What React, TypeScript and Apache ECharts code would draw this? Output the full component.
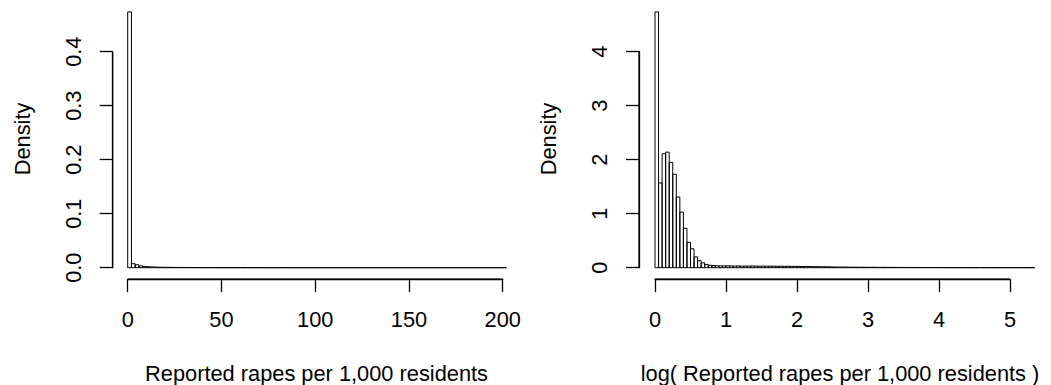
import React, { useEffect, useRef } from "react";
import * as echarts from "echarts";

// ---- Data ----
const leftBinWidth = 2;
const leftDensity = [
  0.4737, 0.0074, 0.0055, 0.0034, 0.0024, 0.0018, 0.0014, 0.0011, 0.0009, 0.0008,
  0.0007, 0.0006, 0.0005, 0.0005, 0.0004, 0.0004, 0.0003, 0.0003, 0.0003, 0.0002,
  0.0002, 0.0002, 0.0002, 0.0001, 0.0001, 0.0001, 0.0001, 0.0001, 0.0001, 0.0001,
  0.0001, 0.0001, 0, 0.0001, 0, 0.0001, 0, 0, 0.0001, 0,
  0, 0.0001, 0, 0, 0, 0, 0.0001, 0, 0, 0,
  0, 0, 0, 0, 0, 0, 0, 0, 0, 0,
  0, 0, 0, 0, 0, 0, 0, 0, 0, 0,
  0, 0, 0, 0, 0, 0, 0, 0, 0, 0,
  0, 0, 0, 0, 0, 0, 0, 0, 0, 0,
  0, 0, 0, 0, 0, 0, 0, 0, 0, 0,
  0.0001,
];

const rightBinWidth = 0.05;
const rightDensity = [
  4.737, 1.57, 2.11, 2.14, 1.95, 1.73, 1.31, 1.03, 0.73, 0.47,
  0.35, 0.2, 0.13, 0.09, 0.06, 0.045, 0.04, 0.036, 0.034, 0.033,
  0.035, 0.032, 0.031, 0.033, 0.03, 0.031, 0.029, 0.032, 0.03, 0.028,
  0.03, 0.027, 0.029, 0.028, 0.026, 0.027, 0.025, 0.026, 0.024, 0.025,
  0.023, 0.022, 0.024, 0.021, 0.02, 0.019, 0.018, 0.017, 0.016, 0.015,
  0.013, 0.012, 0.011, 0.012, 0.01, 0.009, 0.01, 0.008, 0.009, 0.008,
  0.007, 0.008, 0.007, 0.006, 0.007, 0.006, 0.006, 0.005, 0.006, 0.005,
  0.005, 0.004, 0.005, 0.004, 0.004, 0.004, 0.003, 0.004, 0.003, 0.003,
  0.003, 0.003, 0.002, 0.003, 0.002, 0.002, 0.002, 0.002, 0.002, 0.002,
  0.001, 0.002, 0.001, 0.001, 0.001, 0.001, 0.001, 0.001, 0.001, 0.001,
  0.001, 0.001, 0.001, 0.001, 0.001, 0.001, 0.001,
];

const leftXRange = [0, 200];
const leftXStep = 50;
const leftYRange = [0, 0.4];
const leftYStep = 0.1;
const rightXRange = [0, 5];
const rightXStep = 1;
const rightYRange = [0, 4];
const rightYStep = 1;

const leftXLabel = "Reported rapes per 1,000 residents";
const rightXLabel = "log( Reported rapes per 1,000 residents )";
const yLabel = "Density";

// ---- Styles ----
const FONT = "'Liberation Sans', Arial, Helvetica, sans-serif";
const FS = 21.8;
const INK = "#000";
const LINEW = 1.3;
const TICKW = 1.3;
const X_OFFSET = 11.5;
const Y_OFFSETS = [15, 16];

function toBins(dens: number[], w: number) {
  return dens.map((d, i) => [i * w, (i + 1) * w, d]);
}

function histSeries(idx: number, data: number[][]) {
  return {
    type: "custom",
    xAxisIndex: idx,
    yAxisIndex: idx,
    data,
    encode: { x: [0, 1], y: 2 },
    renderItem: (params: any, api: any) => {
      const p0 = api.coord([api.value(0), 0]);
      const p1 = api.coord([api.value(1), api.value(2)]);
      return {
        type: "rect",
        shape: {
          x: p0[0],
          y: p1[1],
          width: p1[0] - p0[0],
          height: p0[1] - p1[1],
        },
        style: { fill: "none", stroke: INK, lineWidth: 1 },
      };
    },
  };
}

function xAxisCfg(idx: number, range: number[], step: number) {
  return {
    type: "value",
    gridIndex: idx,
    min: range[0],
    max: range[1],
    interval: step,
    offset: X_OFFSET,
    axisLine: { show: true, onZero: false, lineStyle: { color: INK, width: LINEW } },
    axisTick: { show: true, length: 13, lineStyle: { color: INK, width: TICKW } },
    axisLabel: { margin: 29, color: INK, fontSize: FS, fontFamily: FONT },
    splitLine: { show: false },
  };
}

function yAxisCfg(
  idx: number,
  range: number[],
  step: number,
  offset: number,
  margin: number,
  fmt: (v: number) => string
) {
  return {
    type: "value",
    gridIndex: idx,
    min: range[0],
    max: range[1],
    interval: step,
    offset,
    axisLine: { show: true, onZero: false, lineStyle: { color: INK, width: LINEW } },
    axisTick: { show: true, length: 13, lineStyle: { color: INK, width: TICKW } },
    axisLabel: {
      rotate: 90,
      margin,
      color: INK,
      fontSize: FS,
      fontFamily: FONT,
      formatter: fmt,
    },
    splitLine: { show: false },
  };
}

function textEl(id: string, text: string, x: number, y: number, rotation = 0) {
  return {
    id,
    type: "text",
    x,
    y,
    rotation,
    style: {
      text,
      fill: INK,
      fontSize: FS,
      fontFamily: FONT,
      align: "center",
      verticalAlign: "middle",
    },
  };
}

function lineEl(id: string, x1: number, y1: number, x2: number, y2: number) {
  return {
    id,
    type: "line",
    z: 100,
    shape: { x1, y1, x2, y2 },
    style: { stroke: INK, lineWidth: 1.2 },
  };
}

export default function App() {
  const ref = useRef<HTMLDivElement>(null);

  useEffect(() => {
    if (!ref.current) return;
    const chart = echarts.init(ref.current, undefined, { renderer: "svg" });
    const texts = [
      textEl("d1", yLabel, 22, 139, Math.PI / 2),
      textEl("d2", yLabel, 548, 139, Math.PI / 2),
      textEl("t1", leftXLabel, 316.5, 373),
      textEl("t2", rightXLabel, 840, 373),
    ];
    const option: any = {
      animation: false,
      grid: [
        { left: 127.7, top: 51.7, width: 375, height: 216 },
        { left: 655, top: 51.7, width: 355, height: 216 },
      ],
      xAxis: [
        xAxisCfg(0, leftXRange, leftXStep),
        xAxisCfg(1, rightXRange, rightXStep),
      ],
      yAxis: [
        yAxisCfg(0, leftYRange, leftYStep, Y_OFFSETS[0], 28, (v: number) => v.toFixed(1)),
        yAxisCfg(1, rightYRange, rightYStep, Y_OFFSETS[1], 29, (v: number) => String(v)),
      ],
      series: [
        histSeries(0, toBins(leftDensity, leftBinWidth)),
        histSeries(1, toBins(rightDensity, rightBinWidth)),
      ],
      graphic: texts,
    };
    chart.setOption(option);

    // Reinforce the R-style axis lines, spanning first to last tick, from the axes' own scales.
    try {
      const ranges = [
        [leftXRange, leftYRange],
        [rightXRange, rightYRange],
      ];
      const lines: any[] = [];
      ranges.forEach(([xr, yr], g) => {
        const a = chart.convertToPixel({ gridIndex: g } as any, [xr[0], yr[0]]) as number[];
        const b = chart.convertToPixel({ gridIndex: g } as any, [xr[1], yr[1]]) as number[];
        const yx = a[1] + X_OFFSET;
        const xy = a[0] - Y_OFFSETS[g];
        lines.push(lineEl("xl" + g, a[0], yx, b[0], yx));
        lines.push(lineEl("yl" + g, xy, a[1], xy, b[1]));
      });
      chart.setOption({ graphic: [...texts, ...lines] });
    } catch (e) {
      // keep library axes only
    }
    return () => chart.dispose();
  }, []);

  return (
    <div
      ref={ref}
      style={{ position: "absolute", left: 0, top: 0, width: 1051, height: 385 }}
    />
  );
}
